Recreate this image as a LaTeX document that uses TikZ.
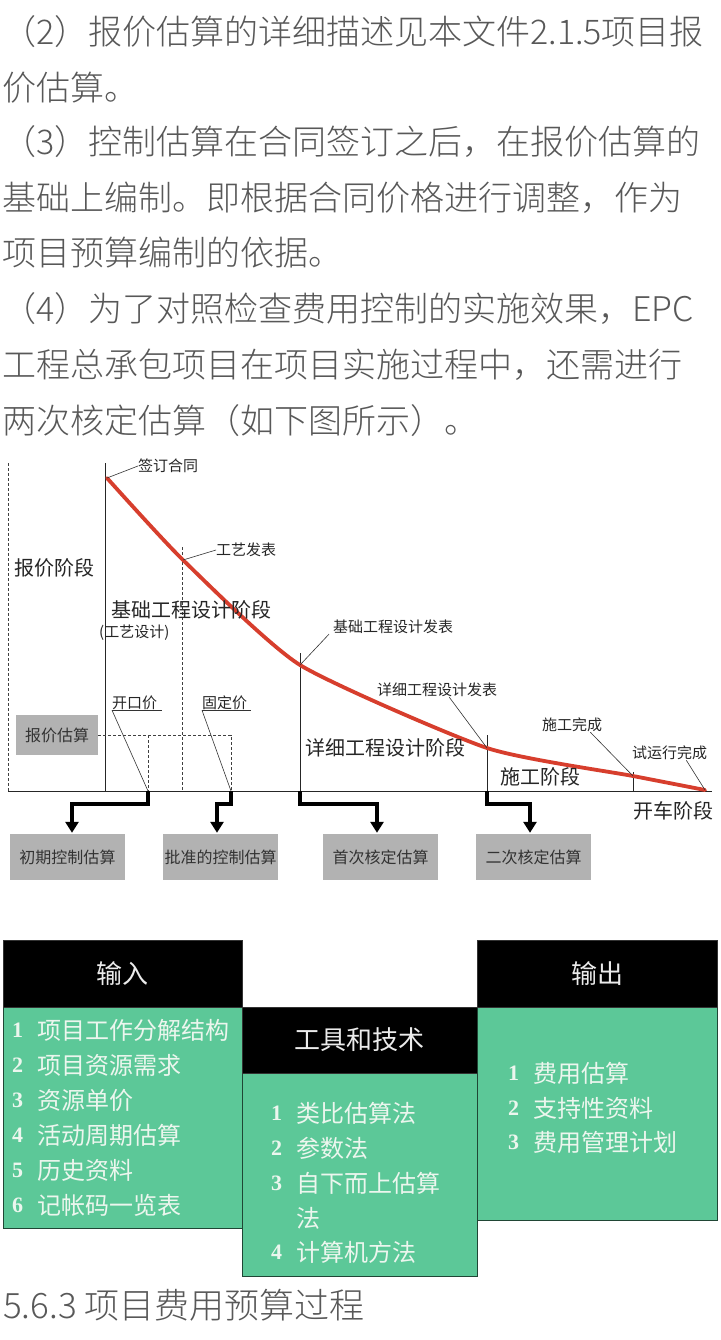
\documentclass[tikz,border=0pt]{standalone}
\usepackage{fontspec}
\setmainfont{Liberation Serif}
\newfontfamily\sanscjk{Noto Sans CJK SC Light}
\newfontfamily\songti{Noto Sans CJK SC}
\usetikzlibrary{arrows.meta,calc}
\definecolor{paratext}{RGB}{88,88,88}
\definecolor{redcurve}{RGB}{215,62,45}
\definecolor{greybox}{RGB}{178,178,178}
\definecolor{tblgreen}{RGB}{92,200,152}
\definecolor{lighttext}{RGB}{236,246,238}
\tikzset{
  para/.style={anchor=west, inner sep=0pt, font=\sanscjk\fontsize{34}{34}\selectfont, text=paratext},
  small/.style={anchor=west, inner sep=0pt, font=\songti\fontsize{15}{15}\selectfont, text=black!85},
  phase/.style={anchor=west, inner sep=0pt, font=\songti\fontsize{20}{20}\selectfont, text=black!85},
  estbox/.style={fill=greybox, inner sep=0pt, minimum width=115pt, minimum height=46pt, font=\songti\fontsize{16}{16}\selectfont, text=black!80},
  fat/.style={line width=3.5pt, -{Triangle[length=11pt,width=13pt]}, shorten >=1pt},
  hdr/.style={fill=black, draw=black!80, line width=0.8pt, text=white!92!black, font=\songti\fontsize{26}{26}\selectfont, inner sep=0pt},
  body/.style={fill=tblgreen, draw=black!65!tblgreen, line width=1pt, inner sep=0pt},
  num/.style={anchor=west, inner sep=0pt, text=lighttext, font=\bfseries\fontsize{22}{22}\selectfont},
  item/.style={anchor=west, inner sep=0pt, text=lighttext, font=\songti\fontsize{24}{24}\selectfont},
  leader/.style={line width=0.6pt, black!80},
  guide/.style={line width=0.7pt, black!75, dash pattern=on 3pt off 2pt},
  chartline/.style={line width=0.9pt, black!85}
}
\begin{document}
\begin{tikzpicture}[x=1pt,y=-1pt]
\useasboundingbox (0,0) rectangle (720,1340);
\fill[white] (0,0) rectangle (720,1340);

% ---------- paragraph ----------
\node[para] (p1) at (2,32) {（2）报价估算的详细描述见本文件2.1.5项目报};
\node[para] (p2) at (2,88) {价估算。};
\node[para] (p3) at (2,142) {（3）控制估算在合同签订之后，在报价估算的};
\node[para] (p4) at (2,198) {基础上编制。即根据合同价格进行调整，作为};
\node[para] (p5) at (2,253) {项目预算编制的依据。};
\node[para] (p6) at (2,309) {（4）为了对照检查费用控制的实施效果，EPC};
\node[para] (p7) at (2,365) {工程总承包项目在项目实施过程中，还需进行};
\node[para] (p8) at (2,421) {两次核定估算（如下图所示）。};

% ---------- chart ----------
\coordinate (o) at (8,791);
\coordinate (xend) at (712,791);
\draw[guide] (8,463) -- (o);
\draw[chartline] (o) -- (xend);
\draw[chartline] (105,463) -- (105,791);
\draw[guide] (182,547) -- (182,791);
\draw[chartline] (300,653) -- (300,791);
\draw[chartline] (487,735) -- (487,791);
\draw[chartline] (633,772) -- (633,791);

\coordinate (pA) at (107,478);
\coordinate (pB) at (183,560);
\coordinate (pC) at (300,665);
\coordinate (pD) at (487,748);
\coordinate (pE) at (633,776);
\coordinate (pF) at (705,790);
\draw[redcurve, line width=3.8pt, line cap=round, line join=round]
  plot[smooth, tension=0.35] coordinates {(pA) (pB) (pC) (pD) (pE) (pF)};

\node[small] (lA) at (138,466) {签订合同};
\draw[leader] (pA) -- (lA.west);
\node[small] (lB) at (216,550) {工艺发表};
\draw[leader] (pB) -- (lB.west);
\node[small] (lC) at (333,627) {基础工程设计发表};
\draw[leader] (pC) -- ($(lC.south west)+(-4,0)$);
\node[small] (lD) at (377,690) {详细工程设计发表};
\draw[leader] (pD) -- ($(lD.south west)!0.6!(lD.south east)$);
\node[small] (lE) at (542,725) {施工完成};
\draw[leader] (pE) -- ($(lE.south west)!0.8!(lE.south east)$);
\node[small] (lF) at (632,753) {试运行完成};
\draw[leader] (pF) -- ($(lF.south west)!0.72!(lF.south east)$);

\node[phase] (s1) at (14,568) {报价阶段};
\node[phase] (s2) at (111,610) {基础工程设计阶段};
\node[small] (s2b) at (99,633) {(工艺设计)};
\node[phase] (s3) at (305,748) {详细工程设计阶段};
\node[phase] (s4) at (500,777) {施工阶段};
\node[phase] (s5) at (633,811) {开车阶段};

% quote estimate and price types
\node[estbox, minimum width=82pt, minimum height=40pt] (qb) at (57,735) {报价估算};
\coordinate (e1) at (148,791);
\coordinate (e2) at (231,791);
\coordinate (d2) at (231,735);
\draw[guide] (qb.east) -- (d2) -- (e2);
\draw[guide] (qb.east -| e1) -- (e1);

\node[small] (kk) at (112,703) {开口价};
\draw[leader] (kk.south west) -- ($(kk.south east)+(5,0)$);
\draw[leader] (kk.south west) -- (e1);
\node[small] (gd) at (202,703) {固定价};
\draw[leader] (gd.south west) -- ($(gd.south east)+(4,0)$);
\draw[leader] (gd.south west) -- (e2);

% estimate boxes
\node[estbox] (b1) at (67.5,857) {初期控制估算};
\node[estbox] (b2) at (220.5,857) {批准的控制估算};
\node[estbox] (b3) at (380.5,857) {首次核定估算};
\node[estbox] (b4) at (533.5,857) {二次核定估算};

\coordinate (e3) at (300,791);
\coordinate (e4) at (487,791);
\coordinate (k1) at (72,804);
\coordinate (k2) at (217,804);
\coordinate (k3) at (377,804);
\coordinate (k4) at (530,804);
\draw[fat] (e1) |- (k1) -- (k1 |- b1.north);
\draw[fat] (e2) |- (k2) -- (k2 |- b2.north);
\draw[fat] (e3) |- (k3) -- (k3 |- b3.north);
\draw[fat] (e4) |- (k4) -- (k4 |- b4.north);

% ---------- process table ----------
\node[body, minimum width=239pt, minimum height=221pt] (g1) at (122.5,1117.5) {};
\node[hdr, minimum width=239pt, minimum height=67pt] (h1) at (122.5,973.5) {输入};
\node[body, minimum width=235pt, minimum height=203pt] (g2) at (359.5,1174.5) {};
\node[hdr, minimum width=235pt, minimum height=66pt] (h2) at (359.5,1040) {工具和技术};
\node[body, minimum width=240pt, minimum height=213pt] (g3) at (597,1113.5) {};
\node[hdr, minimum width=240pt, minimum height=67pt] (h3) at (597,973.5) {输出};

\foreach \t [count=\i] in {项目工作分解结构,项目资源需求,资源单价,活动周期估算,历史资料,记帐码一览表}{
  \node[num] (inN\i) at (12,995+35*\i) {\i};
  \node[item] (inT\i) at (37,995+35*\i) {\t};
}

\node[num] (tN1) at (271,1113) {1};
\node[item] (tT1) at (296,1113) {类比估算法};
\node[num] (tN2) at (271,1148) {2};
\node[item] (tT2) at (296,1148) {参数法};
\node[num] (tN3) at (271,1183) {3};
\node[item] (tT3) at (296,1183) {自下而上估算};
\node[item] (tT3b) at (296,1218) {法};
\node[num] (tN4) at (271,1252) {4};
\node[item] (tT4) at (296,1252) {计算机方法};

\node[num] (oN1) at (508,1073) {1};
\node[item] (oT1) at (533,1073) {费用估算};
\node[num] (oN2) at (508,1108) {2};
\node[item] (oT2) at (533,1108) {支持性资料};
\node[num] (oN3) at (508,1142) {3};
\node[item] (oT3) at (533,1142) {费用管理计划};

% ---------- caption ----------
\node[para, font=\sanscjk\fontsize{35}{35}\selectfont] (cap) at (3,1305) {5.6.3 项目费用预算过程};
\end{tikzpicture}
\end{document}
